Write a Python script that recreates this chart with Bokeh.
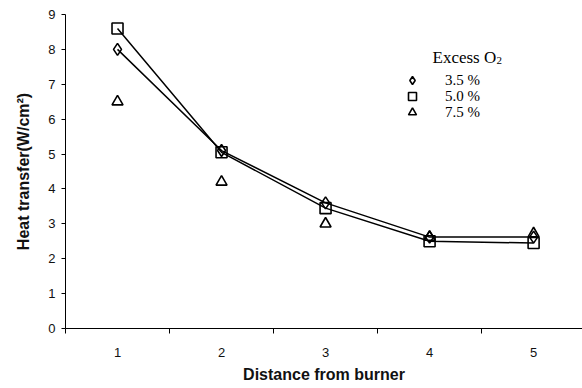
import math
from bokeh.plotting import figure
from bokeh.models import FixedTicker, Label, Legend, LegendItem, Range1d
from bokeh.embed import file_html
from bokeh.resources import INLINE

# data
distance = [1, 2, 3, 4, 5]
o2_35 = [8.0, 5.1, 3.6, 2.62, 2.62]
o2_50 = [8.6, 5.05, 3.45, 2.5, 2.45]
o2_75 = [6.5, 4.2, 3.0, 2.62, 2.72]
series_labels = ["3.5 %", "5.0 %", "7.5 %"]
y_ticks = [0, 1, 2, 3, 4, 5, 6, 7, 8, 9]

p = figure(width=582, height=388, output_backend="svg", toolbar_location=None,
           x_range=Range1d(0.5, 5.47), y_range=Range1d(0, 9),
           min_border_left=65, min_border_right=0, min_border_top=14, min_border_bottom=60)
p.outline_line_color = None
p.background_fill_color = "white"
p.border_fill_color = "white"

# lines
p.line(distance, o2_35, line_color="black", line_width=1.5)
p.line(distance, o2_50, line_color="black", line_width=1.5)

r1 = p.scatter(distance, o2_35, marker="diamond", size=12, fill_color=None, line_color="black", line_width=1.6)
r2 = p.scatter(distance, o2_50, marker="square", size=11, fill_color=None, line_color="black", line_width=1.6)
r3 = p.scatter(distance, o2_75, marker="triangle", size=11, fill_color=None, line_color="black", line_width=1.6)

# axes
xa = p.xaxis[0]
xa.ticker = FixedTicker(ticks=distance, minor_ticks=[0.5, 1.5, 2.5, 3.5, 4.5, 5.5])
xa.major_tick_line_color = None
xa.major_tick_out = 0
xa.major_tick_in = 0
xa.minor_tick_out = 5
xa.minor_tick_in = 0
xa.minor_tick_line_color = "black"
xa.axis_line_color = "black"
xa.major_label_standoff = 14
xa.major_label_text_font = "Liberation Sans"
xa.major_label_text_font_size = "13px"
xa.major_label_text_color = "#111111"
xa.axis_label = "Distance from burner"
xa.axis_label_text_font = "Liberation Sans"
xa.axis_label_text_font_style = "bold"
xa.axis_label_text_font_size = "16px"
xa.axis_label_text_color = "#111111"
xa.axis_label_standoff = 6

ya = p.yaxis[0]
ya.ticker = FixedTicker(ticks=y_ticks, minor_ticks=[])
ya.major_tick_out = 4
ya.major_tick_in = 0
ya.major_tick_line_color = "black"
ya.axis_line_color = "black"
ya.major_label_standoff = 6
ya.major_label_text_font = "Liberation Sans"
ya.major_label_text_font_size = "13px"
ya.major_label_text_color = "#111111"
ya.axis_label = "Heat transfer(W/cm²)"
ya.axis_label_text_font = "Liberation Sans"
ya.axis_label_text_font_style = "bold"
ya.axis_label_text_font_size = "16px"
ya.axis_label_text_color = "#111111"
ya.axis_label_standoff = 13

p.xgrid.visible = False
p.ygrid.ticker = FixedTicker(ticks=[9])
p.ygrid.grid_line_color = "#a0a0a0"
p.ygrid.grid_line_width = 1.5

# legend title
p.add_layout(Label(x=367, y=271, x_units="screen", y_units="screen", text="Excess O",
                   text_align="left", text_baseline="alphabetic", text_font="Liberation Serif",
                   text_font_size="17px", text_color="black"))
p.add_layout(Label(x=431, y=268, x_units="screen", y_units="screen", text="2",
                   text_align="left", text_baseline="alphabetic", text_font="Liberation Serif",
                   text_font_size="11px", text_color="black"))

legend_y = [238, 222, 206]
for lab, rend, ly in zip(series_labels, [r1, r2, r3], legend_y):
    lg = Legend(items=[LegendItem(label=lab, renderers=[rend])],
                location=(337, ly), padding=0, margin=0, spacing=0,
                glyph_width=20, glyph_height=20, label_height=20, label_standoff=23,
                border_line_color=None, background_fill_alpha=0,
                label_text_font="Liberation Serif", label_text_font_size="15px",
                label_text_color="black")
    p.add_layout(lg)

open("out.html", "w").write(file_html(p, INLINE))
